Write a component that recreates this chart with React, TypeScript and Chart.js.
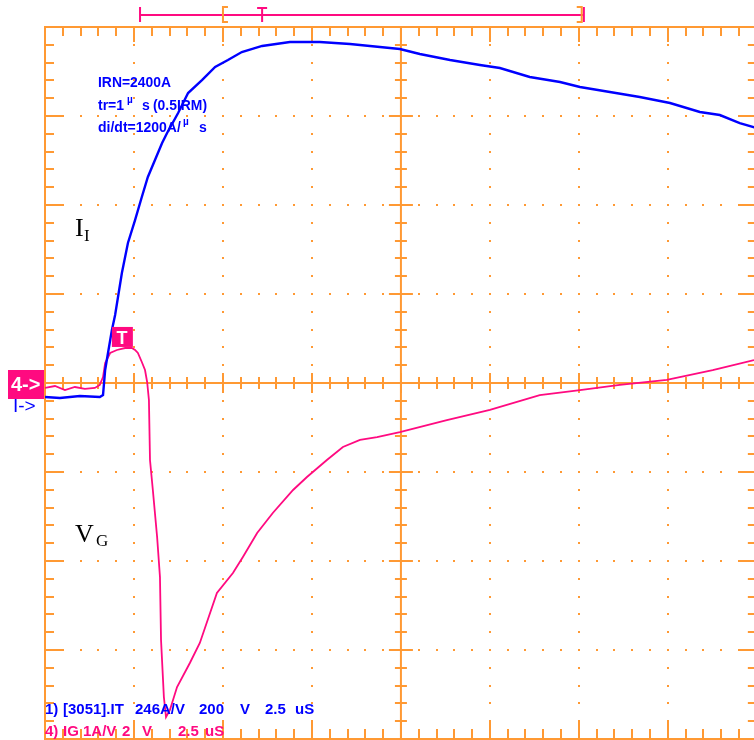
import React, { useEffect, useRef } from 'react';
import { Chart, registerables } from 'chart.js';

Chart.register(...registerables);

const ORANGE = '#ff9933';
const BLUE = '#0000ff';
const PINK = '#ff0a80';

// Horizontal: microseconds (2.5 us / div), vertical: screen divisions
const X_MIN = 0;
const X_MAX = 19.92;
const Y_MIN = -4;
const Y_MAX = 4;

// Channel 1: IT (blue)
const ch1Time = [0, 0.42, 0.98, 1.54, 1.63, 1.69, 1.77, 1.88, 1.97, 2.16, 2.33, 2.53, 2.72, 2.89, 3.09, 3.29, 3.43, 3.74, 4.02, 4.41, 4.78, 5.14, 5.53, 6.1, 6.88, 7.72, 8.57, 9.41, 9.97, 10.53, 11.38, 12.22, 12.78, 13.62, 14.47, 15.03, 15.87, 16.71, 17.56, 18.4, 18.96, 19.52, 20.0];
const ch1Div = [-0.157, -0.169, -0.146, -0.157, -0.135, 0.146, 0.337, 0.596, 0.764, 1.236, 1.573, 1.831, 2.09, 2.315, 2.506, 2.697, 2.809, 3.034, 3.258, 3.404, 3.551, 3.629, 3.719, 3.787, 3.831, 3.831, 3.809, 3.775, 3.753, 3.697, 3.629, 3.573, 3.539, 3.438, 3.382, 3.326, 3.27, 3.213, 3.146, 3.045, 3.011, 2.921, 2.865];

// Channel 4: IG (pink)
const ch4Time = [0, 0.28, 0.56, 0.84, 1.12, 1.4, 1.54, 1.63, 1.69, 1.83, 2.02, 2.25, 2.44, 2.53, 2.61, 2.72, 2.81, 2.87, 2.92, 2.95, 3.03, 3.15, 3.23, 3.26, 3.34, 3.4, 3.51, 3.71, 4.07, 4.35, 4.83, 5.28, 5.56, 5.96, 6.4, 6.97, 7.36, 7.92, 8.37, 8.85, 9.33, 9.97, 11.29, 12.5, 13.9, 15.03, 16.15, 17.47, 18.76, 19.92];
const ch4Div = [-0.056, -0.034, -0.079, -0.045, -0.067, -0.056, -0.022, 0.067, 0.225, 0.337, 0.371, 0.393, 0.393, 0.371, 0.337, 0.236, 0.146, 0.011, -0.191, -0.865, -1.202, -1.73, -2.18, -2.888, -3.528, -3.753, -3.674, -3.416, -3.146, -2.921, -2.36, -2.135, -1.955, -1.685, -1.461, -1.202, -1.056, -0.865, -0.719, -0.64, -0.607, -0.551, -0.416, -0.303, -0.135, -0.079, -0.022, 0.034, 0.146, 0.258];

// Annotations
const NOTE_LINES = ['IRN=2400A', 'tr=1', 'di/dt=1200A/'];
const CH1_LABEL = ['1)', '[3051].IT', '246A/V', '200', 'V', '2.5', 'uS'];
const CH4_LABEL = ['4)', 'IG 1A/V', '2', 'V', '2.5', 'uS'];

const scopeGrid = {
  id: 'scopeGrid',
  beforeDatasetsDraw(chart: any) {
    const { ctx, scales } = chart;
    const sx = scales.x;
    const sy = scales.y;
    const px = (v: number) => sx.getPixelForValue(v);
    const py = (v: number) => sy.getPixelForValue(v);
    const left = px(0), right = px(20), top = py(4), bottom = py(-4);
    const cx = px(10), cy = py(0);
    ctx.save();
    ctx.fillStyle = ORANGE;
    ctx.strokeStyle = ORANGE;
    // dotted grid
    for (let i = 1; i < 8; i++) {
      if (i === 4) continue;
      const gx = px(i * 2.5);
      for (let j = 1; j < 40; j++) {
        if (j === 20) continue;
        ctx.fillRect(Math.round(gx) - 1, Math.round(py(-4 + j * 0.2)) - 1, 2, 2);
      }
      const gy = py(-4 + i);
      for (let j = 1; j < 40; j++) {
        if (j === 20) continue;
        ctx.fillRect(Math.round(px(j * 0.5)) - 1, Math.round(gy) - 1, 2, 2);
      }
    }
    ctx.lineWidth = 2;
    ctx.beginPath();
    ctx.rect(left, top, right - left, bottom - top);
    ctx.moveTo(cx, top);
    ctx.lineTo(cx, bottom);
    ctx.moveTo(left, cy);
    ctx.lineTo(right, cy);
    // ticks along x
    for (let i = 1; i < 40; i++) {
      const x = Math.round(px(i * 0.5));
      const major = i % 5 === 0;
      ctx.moveTo(x, top);
      ctx.lineTo(x, top + (major ? 15 : 9));
      ctx.moveTo(x, bottom);
      ctx.lineTo(x, bottom - (major ? 17 : 10));
      ctx.moveTo(x, cy - (major ? 10 : 6));
      ctx.lineTo(x, cy + (major ? 10 : 6));
    }
    for (let j = 1; j < 40; j++) {
      const y = Math.round(py(-4 + j * 0.2));
      const major = j % 5 === 0;
      ctx.moveTo(left, y);
      ctx.lineTo(left + (major ? 18 : 9), y);
      ctx.moveTo(right, y);
      ctx.lineTo(right - (major ? 18 : 9), y);
      ctx.moveTo(cx - (major ? 12 : 6), y);
      ctx.lineTo(cx + (major ? 12 : 6), y);
    }
    ctx.stroke();
    ctx.restore();
  },
};

const scopeOverlay = {
  id: 'scopeOverlay',
  afterDraw(chart: any) {
    const { ctx, scales } = chart;
    const px = (v: number) => scales.x.getPixelForValue(v);
    const py = (v: number) => scales.y.getPixelForValue(v);
    const top = py(4);
    ctx.save();
    ctx.textBaseline = 'alphabetic';
    ctx.textAlign = 'left';

    // top memory bar
    const barY = top - 12;
    const bx0 = px(2.67), bx1 = px(15.14);
    ctx.strokeStyle = PINK;
    ctx.lineWidth = 2;
    ctx.beginPath();
    ctx.moveTo(bx0, barY); ctx.lineTo(bx1, barY);
    ctx.moveTo(bx0, barY - 8); ctx.lineTo(bx0, barY + 7);
    ctx.moveTo(bx1, barY - 8); ctx.lineTo(bx1, barY + 7);
    const tx = px(6.1);
    ctx.moveTo(tx - 5, barY - 7); ctx.lineTo(tx + 5, barY - 7);
    ctx.moveTo(tx, barY - 7); ctx.lineTo(tx, barY + 7);
    ctx.stroke();
    ctx.strokeStyle = ORANGE;
    ctx.beginPath();
    const l1 = px(5.0), r1 = px(15.08);
    ctx.moveTo(l1 + 5, barY - 8); ctx.lineTo(l1, barY - 8); ctx.lineTo(l1, barY + 7); ctx.lineTo(l1 + 5, barY + 7);
    ctx.moveTo(r1 - 5, barY - 8); ctx.lineTo(r1, barY - 8); ctx.lineTo(r1, barY + 7); ctx.lineTo(r1 - 5, barY + 7);
    ctx.stroke();

    // channel ground markers
    const g = py(0);
    ctx.fillStyle = PINK;
    ctx.fillRect(8, g - 13, 36, 29);
    ctx.fillStyle = '#ffffff';
    ctx.font = 'bold 20px "Liberation Sans", Arial, sans-serif';
    ctx.fillText('4->', 11, g + 8, 31);
    ctx.fillStyle = BLUE;
    ctx.font = '19px "Liberation Sans", Arial, sans-serif';
    ctx.fillText('I->', 13, g + 29, 30);

    // trigger marker on ch4
    const trx = px(2.16), trY = py(0.405);
    ctx.fillStyle = PINK;
    ctx.fillRect(trx - 10, trY - 20, 21, 20);
    ctx.fillStyle = '#ffffff';
    ctx.font = 'bold 18px "Liberation Sans", Arial, sans-serif';
    ctx.textAlign = 'center';
    ctx.fillText('T', trx, trY - 3);
    ctx.textAlign = 'left';

    // notes
    ctx.fillStyle = BLUE;
    ctx.font = 'bold 14px "Liberation Sans", Arial, sans-serif';
    ctx.fillText(NOTE_LINES[0], 98, 87, 73);
    ctx.fillText(NOTE_LINES[1], 98, 110, 27);
    ctx.fillText('s', 142, 110);
    ctx.fillText('(0.5IRM)', 153, 110, 54);
    ctx.fillText(NOTE_LINES[2], 98, 132, 84);
    ctx.fillText('s', 199, 132);
    ctx.font = 'bold 10px "Liberation Sans", Arial, sans-serif';
    ctx.fillText('\u00b5', 127, 103);
    ctx.fillText('\u00b5', 183, 125);

    // trace names
    ctx.fillStyle = '#000000';
    ctx.font = '26px "Liberation Serif", "Times New Roman", serif';
    ctx.fillText('I', 75, 236);
    ctx.fillText('V', 75, 542);
    ctx.font = '17px "Liberation Serif", "Times New Roman", serif';
    ctx.fillText('I', 84, 241);
    ctx.fillText('G', 96, 546);

    // channel readouts
    ctx.font = 'bold 15px "Liberation Sans", Arial, sans-serif';
    const ch1X = [45, 63, 135, 199, 240, 265, 295];
    ctx.fillStyle = BLUE;
    CH1_LABEL.forEach((t, i) => ctx.fillText(t, ch1X[i], 714));
    const ch4X = [45, 63, 122, 142, 178, 205];
    ctx.fillStyle = PINK;
    CH4_LABEL.forEach((t, i) => ctx.fillText(t, ch4X[i], 736));
    ctx.restore();
  },
};

export default function App() {
  const ref = useRef<HTMLCanvasElement | null>(null);
  useEffect(() => {
    if (!ref.current) return;
    const chart = new Chart(ref.current, {
      type: 'scatter',
      data: {
        datasets: [
          {
            label: 'IT',
            data: ch1Time.map((t, i) => ({ x: t, y: ch1Div[i] })),
            showLine: true,
            borderColor: BLUE,
            backgroundColor: BLUE,
            borderWidth: 2.4,
            pointRadius: 0,
            tension: 0,
          },
          {
            label: 'IG',
            data: ch4Time.map((t, i) => ({ x: t, y: ch4Div[i] })),
            showLine: true,
            borderColor: PINK,
            backgroundColor: PINK,
            borderWidth: 1.8,
            pointRadius: 0,
            tension: 0,
          },
        ],
      },
      options: {
        responsive: false,
        animation: false,
        layout: { padding: { left: 45, top: 27, right: 0, bottom: 1 } },
        plugins: { legend: { display: false }, tooltip: { enabled: false } },
        scales: {
          x: { type: 'linear', min: X_MIN, max: X_MAX, display: false },
          y: { type: 'linear', min: Y_MIN, max: Y_MAX, display: false },
        },
      },
      plugins: [scopeGrid, scopeOverlay],
    });
    return () => chart.destroy();
  }, []);
  return (
    <div style={{ position: 'absolute', left: 0, top: 0, width: 754, height: 740, background: '#ffffff' }}>
      <canvas ref={ref} width={754} height={740} style={{ display: 'block' }} />
    </div>
  );
}
